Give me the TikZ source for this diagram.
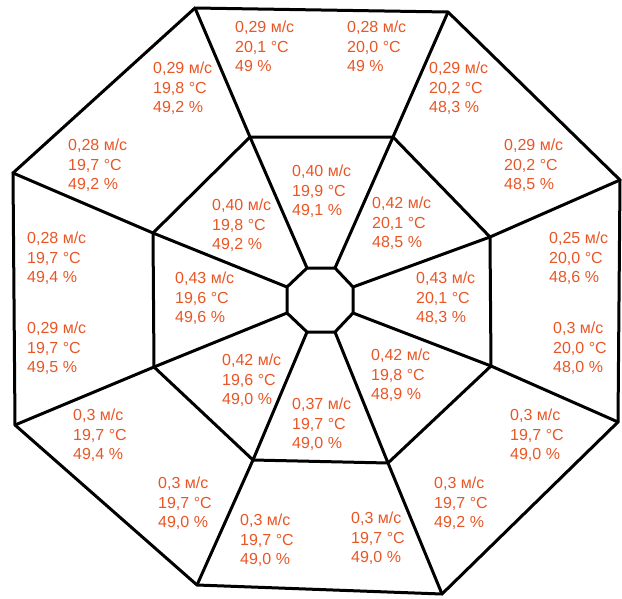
\documentclass[tikz,border=0pt]{standalone}
\usepackage{fontspec}
\setmainfont{Liberation Sans}
\definecolor{lbl}{RGB}{232,86,38}
\begin{document}
\begin{tikzpicture}[x=1pt,y=-1pt,
  edge/.style={draw=black,line width=3pt,line join=miter},
  val/.style={anchor=north west,inner sep=0pt,align=left,text=lbl,
    font={\fontsize{16}{19.5}\selectfont}}]
\useasboundingbox (0,0) rectangle (622,598);
% outer octagon
\coordinate (O1) at (195,8);
\coordinate (O2) at (448,12);
\coordinate (O3) at (620,180);
\coordinate (O4) at (618,422);
\coordinate (O5) at (442,594);
\coordinate (O6) at (197,585);
\coordinate (O7) at (15,425);
\coordinate (O8) at (13,173);
% middle octagon
\coordinate (M1) at (250,137);
\coordinate (M2) at (393,137);
\coordinate (M3) at (490,237);
\coordinate (M4) at (491,366);
\coordinate (M5) at (388,463);
\coordinate (M6) at (253,460);
\coordinate (M7) at (154,367);
\coordinate (M8) at (153,233);
% inner octagon
\coordinate (I1) at (307,268);
\coordinate (I2) at (335,268);
\coordinate (I3) at (353,287);
\coordinate (I4) at (353,313);
\coordinate (I5) at (335,332);
\coordinate (I6) at (307,332);
\coordinate (I7) at (287,313);
\coordinate (I8) at (287,287);
\draw[edge] (O1)--(O2)--(O3)--(O4)--(O5)--(O6)--(O7)--(O8)--cycle;
\draw[edge] (M1)--(M2)--(M3)--(M4)--(M5)--(M6)--(M7)--(M8)--cycle;
\draw[edge] (I1)--(I2)--(I3)--(I4)--(I5)--(I6)--(I7)--(I8)--cycle;
\foreach \k in {1,...,8}{\draw[edge] (I\k)--(M\k)--(O\k);}
% labels
\node[val] (t1) at (235,21) {0,29 м/с\\20,1 °C\\49 \%};
\node[val] (t2) at (347,21) {0,28 м/с\\20,0 °C\\49 \%};
\node[val] (t3) at (153,62) {0,29 м/с\\19,8 °C\\49,2 \%};
\node[val] (t4) at (429,62) {0,29 м/с\\20,2 °C\\48,3 \%};
\node[val] (t5) at (68,139) {0,28 м/с\\19,7 °C\\49,2 \%};
\node[val] (t6) at (504,139) {0,29 м/с\\20,2 °C\\48,5 \%};
\node[val] (t7) at (292,165) {0,40 м/с\\19,9 °C\\49,1 \%};
\node[val] (t8) at (212,199) {0,40 м/с\\19,8 °C\\49,2 \%};
\node[val] (t9) at (372,197) {0,42 м/с\\20,1 °C\\48,5 \%};
\node[val] (t10) at (27,232) {0,28 м/с\\19,7 °C\\49,4 \%};
\node[val] (t11) at (549,232) {0,25 м/с\\20,0 °C\\48,6 \%};
\node[val] (t12) at (175,272) {0,43 м/с\\19,6 °C\\49,6 \%};
\node[val] (t13) at (416,272) {0,43 м/с\\20,1 °C\\48,3 \%};
\node[val] (t14) at (27,322) {0,29 м/с\\19,7 °C\\49,5 \%};
\node[val] (t15) at (553,322) {0,3 м/с\\20,0 °C\\48,0 \%};
\node[val] (t16) at (222,354) {0,42 м/с\\19,6 °C\\49,0 \%};
\node[val] (t17) at (371,349) {0,42 м/с\\19,8 °C\\48,9 \%};
\node[val] (t18) at (292,398) {0,37 м/с\\19,7 °C\\49,0 \%};
\node[val] (t19) at (73,409) {0,3 м/с\\19,7 °C\\49,4 \%};
\node[val] (t20) at (510,409) {0,3 м/с\\19,7 °C\\49,0 \%};
\node[val] (t21) at (158,477) {0,3 м/с\\19,7 °C\\49,0 \%};
\node[val] (t22) at (434,477) {0,3 м/с\\19,7 °C\\49,2 \%};
\node[val] (t23) at (240,514) {0,3 м/с\\19,7 °C\\49,0 \%};
\node[val] (t24) at (351,512) {0,3 м/с\\19,7 °C\\49,0 \%};
\end{tikzpicture}
\end{document}
